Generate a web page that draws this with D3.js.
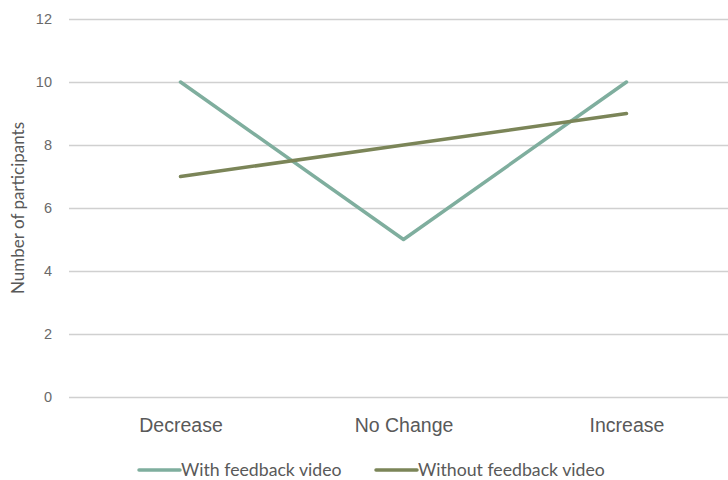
<!DOCTYPE html>
<html>
<head>
<meta charset="utf-8">
<script src="https://cdn.jsdelivr.net/npm/d3@7"></script>
<style>
  html, body { margin: 0; padding: 0; background: #fff; }
  svg { display: block; font-family: "Lato", "Open Sans", "Liberation Sans", sans-serif; }
</style>
</head>
<body>
<svg id="chart" width="728" height="480"></svg>
<script>
// Participants by change category, for the two study groups
const categories = ["Decrease", "No Change", "Increase"];
const withVideo = [10, 5, 10];
const withoutVideo = [7, 8, 9];
const seriesNames = ["With feedback video", "Without feedback video"];
const yTicks = [0, 2, 4, 6, 8, 10, 12];

const colors = ["#7fae9e", "#7b8558"];
const textColor = "#595959";

const svg = d3.select("#chart");
const margin = { left: 69, right: -10, top: 19, bottom: 83 };
const width = 728, height = 480;

const x = d3.scalePoint()
  .domain(categories)
  .range([margin.left, width - margin.right])
  .padding(0.5);

const y = d3.scaleLinear()
  .domain([0, 12])
  .range([height - margin.bottom, margin.top]);

// Horizontal gridlines with value labels
const yAxis = d3.axisLeft(y)
  .tickValues(yTicks)
  .tickSize(-(width - margin.left))
  .tickFormat(d3.format("d"));

const gy = svg.append("g")
  .attr("transform", `translate(${margin.left},0)`)
  .call(yAxis);
gy.select(".domain").remove();
gy.selectAll(".tick line").attr("stroke", "#d0d0d0").attr("stroke-width", 1.5);
gy.selectAll(".tick text")
  .attr("x", -17)
  .attr("fill", "#6a6a6a")
  .style("font-size", "14.5px");

// Category labels along the bottom
const xAxis = d3.axisBottom(x).tickSize(0).tickPadding(0);
const gx = svg.append("g")
  .attr("transform", `translate(0,${y(0) + 21})`)
  .call(xAxis);
gx.select(".domain").remove();
gx.selectAll(".tick text")
  .attr("fill", textColor)
  .style("font-size", "19.5px");

// Axis title
svg.append("text")
  .attr("transform", `translate(24,208) rotate(-90)`)
  .attr("text-anchor", "middle")
  .attr("fill", textColor)
  .style("font-size", "17px")
  .text("Number of participants");

// Series lines
const line = d3.line()
  .x((d, i) => x(categories[i]))
  .y(d => y(d));

[withVideo, withoutVideo].forEach((vals, i) => {
  svg.append("path")
    .datum(vals)
    .attr("fill", "none")
    .attr("stroke", colors[i])
    .attr("stroke-width", 3.5)
    .attr("stroke-linecap", "round")
    .attr("stroke-linejoin", "round")
    .attr("d", line);
});

// Legend
const legendX = [139, 376];
const legend = svg.append("g");
seriesNames.forEach((name, i) => {
  const g = legend.append("g").attr("transform", `translate(${legendX[i]},470)`);
  g.append("line")
    .attr("x1", 0).attr("x2", 41)
    .attr("stroke", colors[i])
    .attr("stroke-width", 3.5)
    .attr("stroke-linecap", "round");
  g.append("text")
    .attr("x", 42)
    .attr("dy", "0.35em")
    .attr("fill", textColor)
    .style("font-size", "17.7px")
    .text(name);
});
</script>
</body>
</html>
